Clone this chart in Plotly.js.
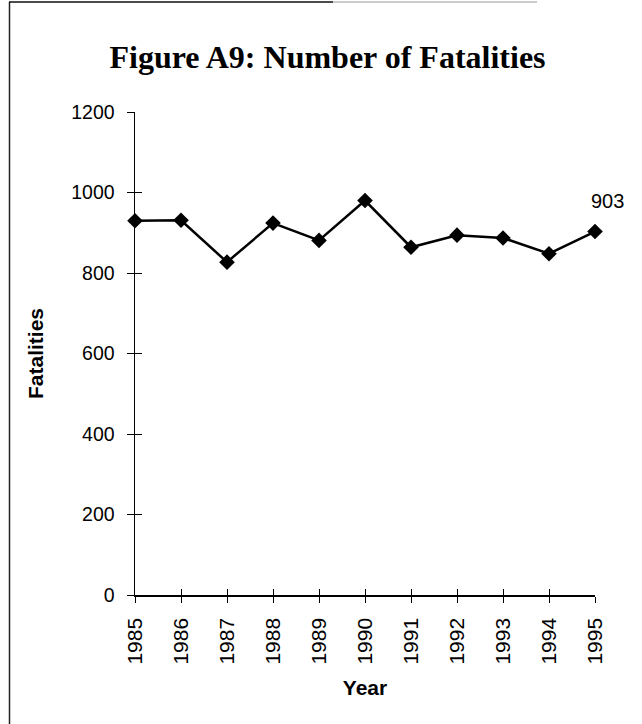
<!DOCTYPE html>
<html>
<head>
<meta charset="utf-8">
<script src="https://cdn.plot.ly/plotly-3.0.1.min.js"></script>
<style>
  html, body { margin: 0; padding: 0; background: #ffffff; }
  #chart { width: 642px; height: 724px; }
</style>
</head>
<body>
<div id="chart"></div>
<script>
const years = [1985, 1986, 1987, 1988, 1989, 1990, 1991, 1992, 1993, 1994, 1995];
const fatalities = [930, 931, 827, 924, 881, 980, 864, 894, 887, 848, 903];
const yTicks = [0, 200, 400, 600, 800, 1000, 1200];
const labelIndex = 10;

const W = 642, H = 724;
const M = {l: 135, r: 47, t: 112, b: 129};
const pw = W - M.l - M.r, ph = H - M.t - M.b;
const px = x => (x - M.l) / pw;
const py = y => (H - M.b - y) / ph;

const traces = [
  {
    x: years, y: fatalities, type: 'scatter', mode: 'lines+markers',
    line: {color: '#000000', width: 2.5},
    marker: {symbol: 'diamond', size: 12, color: '#000000'},
    cliponaxis: false, hoverinfo: 'x+y'
  },
  {
    x: years, y: fatalities, xaxis: 'x2', yaxis: 'y2', type: 'scatter', mode: 'markers',
    marker: {opacity: 0}, hoverinfo: 'skip', showlegend: false
  }
];

const sans = 'Liberation Sans, Arial, sans-serif';

const layout = {
  width: W, height: H,
  margin: M,
  paper_bgcolor: '#ffffff', plot_bgcolor: '#ffffff',
  showlegend: false,
  title: {
    text: '<b>Figure A9: Number of Fatalities</b>',
    font: {family: 'Liberation Serif, Times New Roman, serif', size: 32, color: '#000'},
    x: 327.5 / W, xanchor: 'center', xref: 'container',
    y: 1 - 57 / H, yanchor: 'middle', yref: 'container'
  },
  xaxis: {
    range: [1985, 1995], tickvals: years, ticktext: years.map(String),
    tickangle: -90, ticks: 'outside', ticklen: 6, tickwidth: 1, tickcolor: '#000',
    showline: true, linecolor: '#000', linewidth: 1.5, showgrid: false, zeroline: false,
    tickfont: {family: sans, size: 21, color: '#000'}, ticklabelstandoff: 7,
    title: {text: '<b>Year</b>', font: {family: sans, size: 21, color: '#000'}, standoff: 16}
  },
  yaxis: {
    range: [0, 1200], tickvals: yTicks, ticks: 'outside', ticklen: 7, tickwidth: 1, tickcolor: '#000',
    showline: true, linecolor: '#000', linewidth: 1.5, showgrid: false, zeroline: false,
    tickfont: {family: sans, size: 19.5, color: '#000'},
    ticklabelstandoff: 8,
    title: {text: '<b>Fatalities</b>', font: {family: sans, size: 21, color: '#000'}, standoff: 22}
  },
  xaxis2: {
    overlaying: 'x', matches: 'x', range: [1985, 1995], tickvals: years, showticklabels: false,
    ticks: 'inside', ticklen: 6, tickwidth: 1, tickcolor: '#000', showgrid: false, zeroline: false, showline: false
  },
  yaxis2: {
    overlaying: 'y', matches: 'y', range: [0, 1200], tickvals: yTicks, showticklabels: false,
    ticks: 'inside', ticklen: 7, tickwidth: 1, tickcolor: '#000', showgrid: false, zeroline: false, showline: false
  },
  annotations: [
    {
      x: years[labelIndex], y: fatalities[labelIndex], xref: 'x', yref: 'y',
      text: String(fatalities[labelIndex]), showarrow: false,
      xshift: 12, yshift: 31,
      font: {family: sans, size: 20, color: '#000'}
    }
  ],
  shapes: [
    {type: 'line', xref: 'paper', yref: 'paper', x0: px(9.5), x1: px(9.5), y0: py(2), y1: py(724),
     line: {color: '#222', width: 1.5}},
    {type: 'line', xref: 'paper', yref: 'paper', x0: px(9), x1: px(333), y0: py(2), y1: py(2),
     line: {color: '#111', width: 1.5}},
    {type: 'line', xref: 'paper', yref: 'paper', x0: px(333), x1: px(537), y0: py(2), y1: py(2),
     line: {color: '#bbb', width: 1.5}}
  ]
};

Plotly.newPlot('chart', traces, layout, {displayModeBar: false, staticPlot: true});
</script>
</body>
</html>
